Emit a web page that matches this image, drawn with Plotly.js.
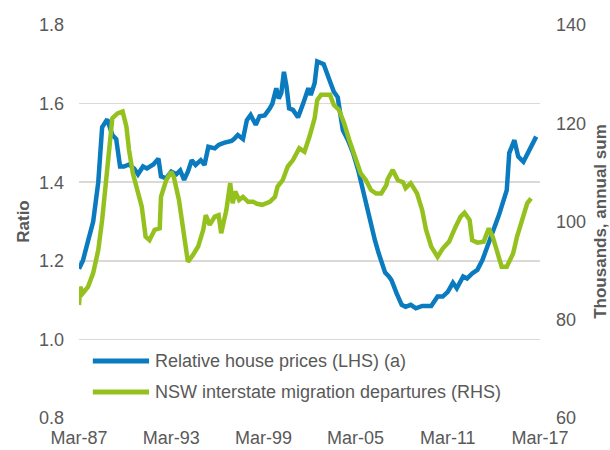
<!DOCTYPE html>
<html>
<head>
<meta charset="utf-8">
<script src="https://cdn.plot.ly/plotly-3.0.1.min.js"></script>
<style>
html,body{margin:0;padding:0;background:#fff;}
#chart{width:610px;height:450px;}
</style>
</head>
<body>
<div id="chart"></div>
<script>
// Relative house prices (LHS), ratio
var priceDates = ["1987-03","1987-06","1987-10","1988-02","1988-06","1988-09","1989-01","1989-05","1989-08","1989-11",
  "1990-02","1990-06","1990-10","1991-01","1991-05","1991-08","1992-01","1992-05","1992-07","1992-11",
  "1993-03","1993-07","1993-10","1994-01","1994-04","1994-07","1994-10","1995-02","1995-05","1995-08",
  "1996-01","1996-04","1996-08","1997-02","1997-04","1997-07","1997-11","1998-02","1998-05","1998-09",
  "1998-12","1999-04","1999-08","1999-10","2000-01","2000-03","2000-05","2000-07","2000-09","2000-11",
  "2001-02","2001-06","2001-10","2002-02","2002-04","2002-07","2002-09","2003-02","2003-07","2003-10",
  "2004-01","2004-05","2004-09","2005-01","2005-05","2005-08","2006-01","2006-06","2006-09","2007-02",
  "2007-05","2007-07","2007-11","2008-03","2008-06","2008-10","2009-02","2009-07","2010-02","2010-07",
  "2010-11","2011-03","2011-07","2011-10","2012-03","2012-06","2012-10","2013-02","2013-06","2013-10",
  "2014-02","2014-07","2015-01","2015-03","2015-07","2015-10","2016-02","2016-07","2016-12"];
var priceValues = [1.18,1.20,1.25,1.30,1.40,1.54,1.56,1.52,1.51,1.44,
  1.44,1.445,1.435,1.42,1.44,1.435,1.445,1.46,1.415,1.41,
  1.427,1.42,1.43,1.406,1.427,1.456,1.444,1.456,1.444,1.49,
  1.486,1.495,1.50,1.505,1.51,1.52,1.51,1.558,1.571,1.546,
  1.568,1.57,1.588,1.60,1.639,1.613,1.628,1.681,1.643,1.588,
  1.584,1.565,1.60,1.639,1.622,1.652,1.707,1.70,1.656,1.63,
  1.616,1.533,1.507,1.474,1.431,1.389,1.312,1.253,1.219,1.17,
  1.16,1.151,1.117,1.088,1.083,1.088,1.079,1.085,1.085,1.109,
  1.109,1.121,1.144,1.13,1.16,1.155,1.168,1.177,1.202,1.236,
  1.278,1.317,1.38,1.474,1.507,1.465,1.452,1.482,1.516];

// NSW interstate migration departures (RHS), thousands, annual sum
var migDates = ["1987-03","1987-04","1987-06","1987-10","1988-02","1988-06","1988-09","1988-12","1989-03","1989-05",
  "1989-09","1990-01","1990-04","1990-06","1990-09","1990-11","1991-04","1991-07","1991-10","1992-02",
  "1992-06","1992-07","1992-11","1993-03","1993-05","1993-09","1994-02","1994-04","1994-08","1994-12",
  "1995-04","1995-06","1995-09","1996-01","1996-04","1996-06","1996-10","1997-01","1997-03","1997-05",
  "1997-08","1997-11","1998-03","1998-07","1998-10","1999-02","1999-08","1999-12","2000-02","2000-06",
  "2000-10","2001-02","2001-07","2001-11","2002-03","2002-07","2002-09","2002-12","2003-07","2003-10",
  "2004-02","2004-06","2004-10","2005-02","2005-07","2005-11","2006-03","2006-07","2006-11","2007-03",
  "2007-04","2007-08","2007-12","2008-04","2008-06","2008-10","2009-03","2009-07","2009-10","2010-02",
  "2010-07","2010-11","2011-04","2011-09","2012-01","2012-04","2012-08","2012-10","2013-02","2013-07",
  "2013-11","2014-02","2014-06","2014-09","2015-01","2015-06","2015-09","2016-01","2016-05","2016-08"];
var migValues = [83.0,86.7,85.4,86.7,89.5,94.2,100.3,108.4,116.6,121.0,
  122.0,122.4,119.3,114.6,109.8,107.8,103.0,96.9,96.2,98.3,
  98.6,105.0,108.4,110.1,109.1,104.4,96.2,91.8,93.2,94.9,
  98.3,101.3,99.3,101.0,101.3,97.6,102.3,107.8,103.7,106.1,
  104.4,105.0,104.0,104.0,103.6,103.4,104.0,105.0,107.1,108.4,
  111.2,112.5,114.9,114.2,117.3,121.0,124.7,125.8,125.8,123.7,
  122.7,120.0,116.6,113.5,109.8,108.4,106.4,105.7,105.7,107.4,
  108.6,110.5,108.4,108.0,106.8,107.8,105.7,102.3,98.3,94.9,
  92.8,94.5,95.9,98.9,101.0,101.8,100.3,96.2,95.7,95.9,
  98.6,96.9,93.5,90.8,90.8,93.5,96.9,100.3,103.7,104.7];

var xTickVals = ["1987-03-01","1993-03-01","1999-03-01","2005-03-01","2011-03-01","2017-03-01"];
var seriesNames = ["Relative house prices (LHS) (a)","NSW interstate migration departures (RHS)"];
var seriesColors = ["#0a7bbf", "#95c11f"];

var textColor = "#595959";
var fontFam = "Arial, 'Liberation Sans', sans-serif";

var traces = [
  {x: priceDates, y: priceValues, name: seriesNames[0], type: "scatter", mode: "lines",
   line: {color: seriesColors[0], width: 4.5}, yaxis: "y"},
  {x: migDates, y: migValues, name: seriesNames[1], type: "scatter", mode: "lines",
   line: {color: seriesColors[1], width: 4.5}, yaxis: "y2"}
];

// legend drawn as paper-anchored keys and labels (long line keys as in the original)
var legendRows = [0.145, 0.066];
var shapes = [];
var annotations = [];
for (var i = 0; i < seriesNames.length; i++) {
  shapes.push({type: "line", xref: "paper", yref: "paper", x0: 0.030, x1: 0.152,
    y0: legendRows[i], y1: legendRows[i], line: {color: seriesColors[i], width: 5}});
  annotations.push({xref: "paper", yref: "paper", x: 0.160, y: legendRows[i], xanchor: "left",
    yanchor: "middle", showarrow: false, text: seriesNames[i],
    font: {size: 18, color: textColor}});
}

var layout = {
  width: 610, height: 450,
  margin: {l: 79, r: 70, t: 25, b: 32},
  paper_bgcolor: "#ffffff", plot_bgcolor: "#ffffff",
  font: {family: fontFam, size: 18, color: textColor},
  showlegend: false,
  shapes: shapes,
  annotations: annotations,
  xaxis: {type: "date", range: ["1987-03-01","2017-03-01"], tickvals: xTickVals, tickformat: "%b-%y",
    showgrid: false, zeroline: false, showline: false, ticks: "", ticklabelstandoff: 7,
    tickfont: {size: 18, color: textColor}},
  yaxis: {range: [0.8, 1.8], dtick: 0.2, tick0: 0.8, tickformat: ".1f", showgrid: true,
    gridcolor: "#dcd8d5", gridwidth: 1.5, zeroline: false, showline: false, ticks: "",
    ticklabelstandoff: 14, tickfont: {size: 18, color: textColor},
    title: {text: "Ratio", font: {size: 17, color: textColor, weight: "bold"}, standoff: 5}},
  yaxis2: {range: [60, 140], dtick: 20, tick0: 60, overlaying: "y", side: "right", showgrid: false,
    zeroline: false, showline: false, ticks: "", ticklabelstandoff: 15,
    tickfont: {size: 18, color: textColor},
    title: {text: "Thousands, annual sum", font: {size: 17, color: textColor, weight: "bold"}, standoff: 13}}
};

Plotly.newPlot("chart", traces, layout, {displayModeBar: false, staticPlot: true});
</script>
</body>
</html>
